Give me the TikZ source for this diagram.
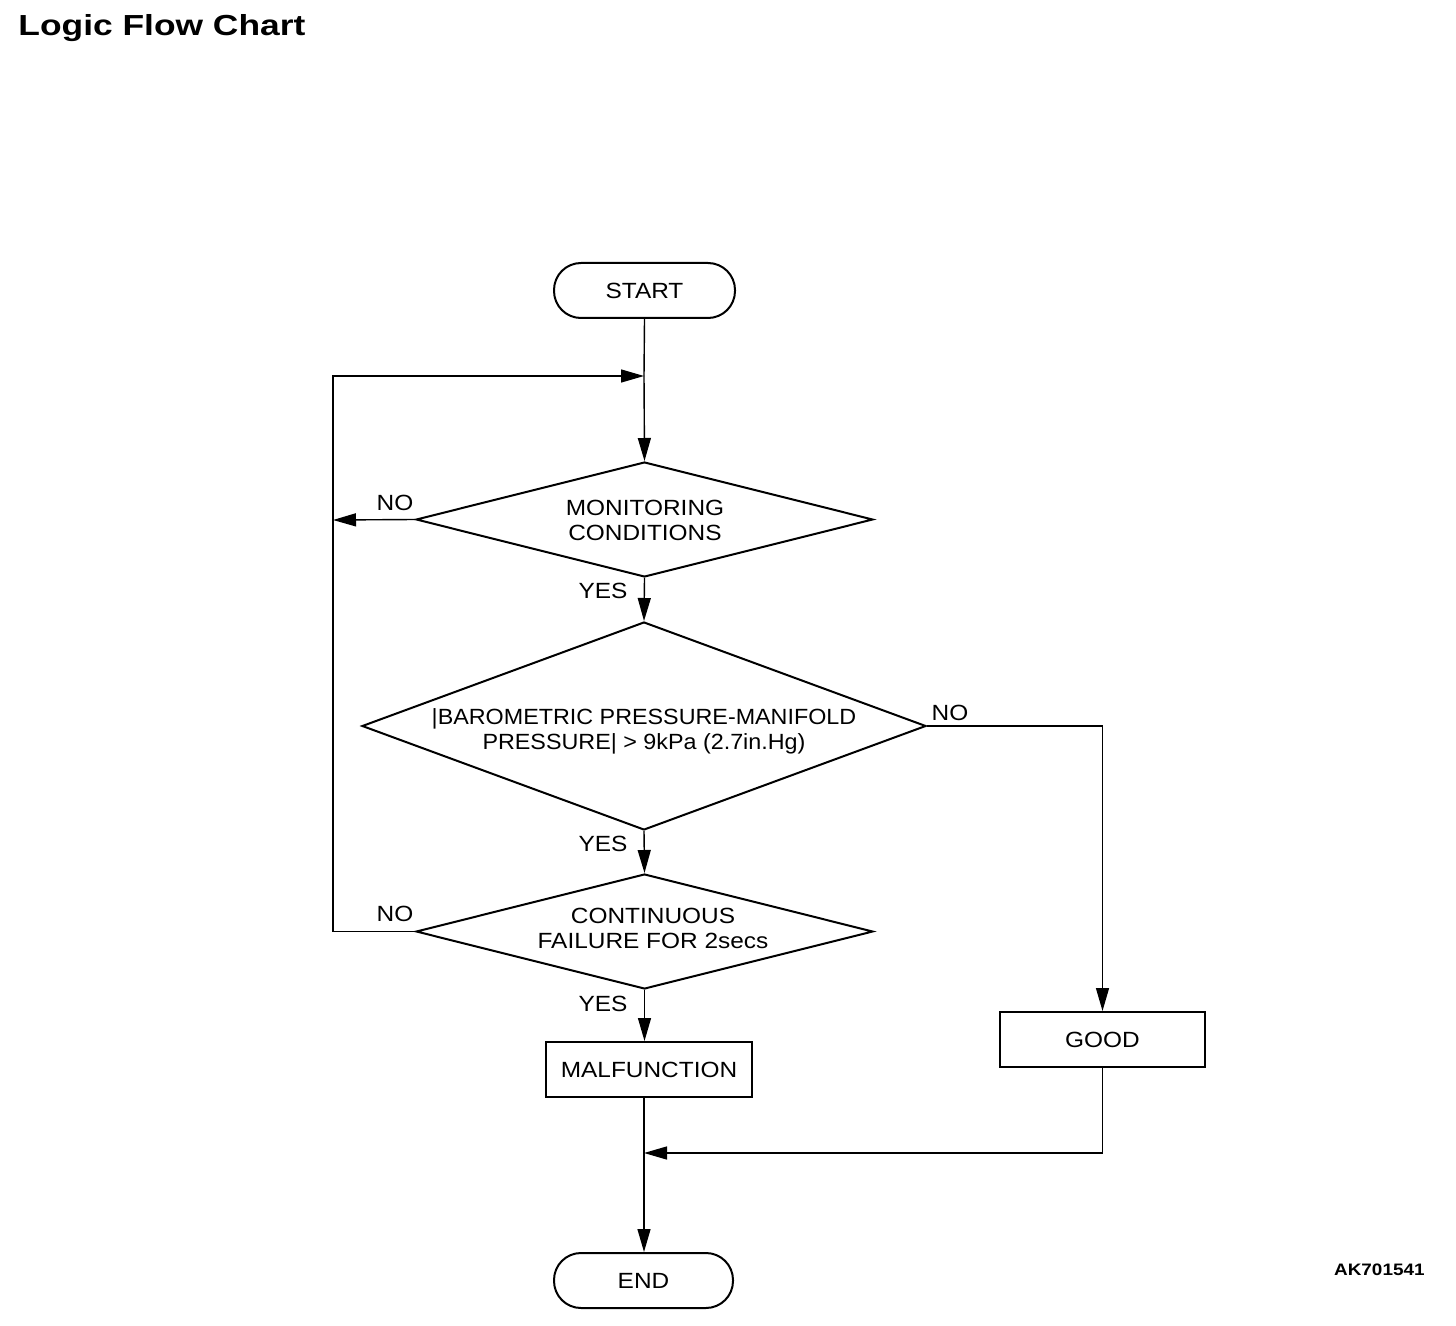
\documentclass[tikz,border=0pt]{standalone}
\usepackage{fontspec}
\setmainfont{Liberation Sans}
\newfontfamily\bodyfont[FakeStretch=1.11]{Liberation Sans}
\newfontfamily\narrowfont[FakeStretch=1.06]{Liberation Sans}
\newfontfamily\titlefont[FakeStretch=1.22]{Liberation Sans}
\newfontfamily\codefont[FakeStretch=1.14]{Liberation Sans}
\usetikzlibrary{shapes.geometric,arrows.meta}
\begin{document}
\begin{tikzpicture}[x=0.5pt,y=-0.5pt,
  every node/.style={font=\bodyfont\fontsize{11}{12.5}\selectfont},
  shp/.style={draw,line width=1pt,inner sep=0pt,align=center},
  term/.style={shp,rectangle,rounded corners=13.5pt,minimum width=90.5pt,minimum height=27.5pt},
  box/.style={shp,rectangle,minimum height=27.5pt},
  dec/.style={shp,diamond},
  dtext/.style={inner sep=0pt,align=center},
  conn/.style={line width=0.7pt},
  arr/.style={conn,-{Triangle[length=11.5pt,width=6.5pt]}},
  lbl/.style={inner sep=0pt}]
\useasboundingbox (0,0) rectangle (1456,1326);
\node[anchor=base west,inner sep=0pt,font=\titlefont\fontsize{14.5}{16}\selectfont\bfseries] (title) at (18,36) {Logic Flow Chart};
\node[anchor=base east,inner sep=0pt,font=\codefont\fontsize{8.3}{10}\selectfont\bfseries] (code) at (1425,1275) {AK701541};

\node[term] (start) at (644.5,290.5) {START};
\node[dec,minimum width=228.5pt,minimum height=57.5pt] (d1) at (644.5,519.5) {};
\node[dtext] (d1t) at (645,520) {MONITORING\\CONDITIONS};
\node[dec,minimum width=282pt,minimum height=104pt] (d2) at (644,726) {};
\node[dtext,font=\narrowfont\fontsize{11}{12.5}\selectfont] (d2t) at (644,731) {|BAROMETRIC PRESSURE-MANIFOLD\\PRESSURE| > 9kPa (2.7in.Hg)};
\node[dec,minimum width=228.5pt,minimum height=57.5pt] (d3) at (644.5,931.5) {};
\node[dtext] (d3t) at (653,928) {CONTINUOUS\\FAILURE FOR 2secs};
\node[box,minimum width=103pt] (malf) at (649,1069.5) {MALFUNCTION};
\node[box,minimum width=102.5pt] (good) at (1102.5,1039.5) {GOOD};
\node[term,minimum width=89.5pt] (endn) at (643.5,1280.5) {END};

\coordinate (j1) at (644,376);
\coordinate (lt) at (333,376);
\coordinate (ln) at (333,520);
\coordinate (j2) at (644,1153);

\draw[conn] (start.south) -- (j1);
\draw[arr] (j1) -- (d1.north);
\draw[arr] (d1.west) -- (ln);
\draw[arr] (d3.west) -| (lt) -- (j1);
\draw[arr] (d1.south) -- (d2.north);
\draw[arr] (d2.east) -| (good.north);
\draw[arr] (d2.south) -- (d3.north);
\draw[arr] (d3.south) -- (d3.south |- malf.north);
\draw[conn] (malf.south -| j2) -- (j2);
\draw[arr] (j2) -- (j2 |- endn.north);
\draw[arr] (good.south) |- (j2);

\node[lbl] (no1) at (395,503) {NO};
\node[lbl] (yes1) at (603,591) {YES};
\node[lbl] (no2) at (950,713) {NO};
\node[lbl] (yes2) at (603,844) {YES};
\node[lbl] (no3) at (395,914) {NO};
\node[lbl] (yes3) at (603,1004) {YES};
\end{tikzpicture}
\end{document}
